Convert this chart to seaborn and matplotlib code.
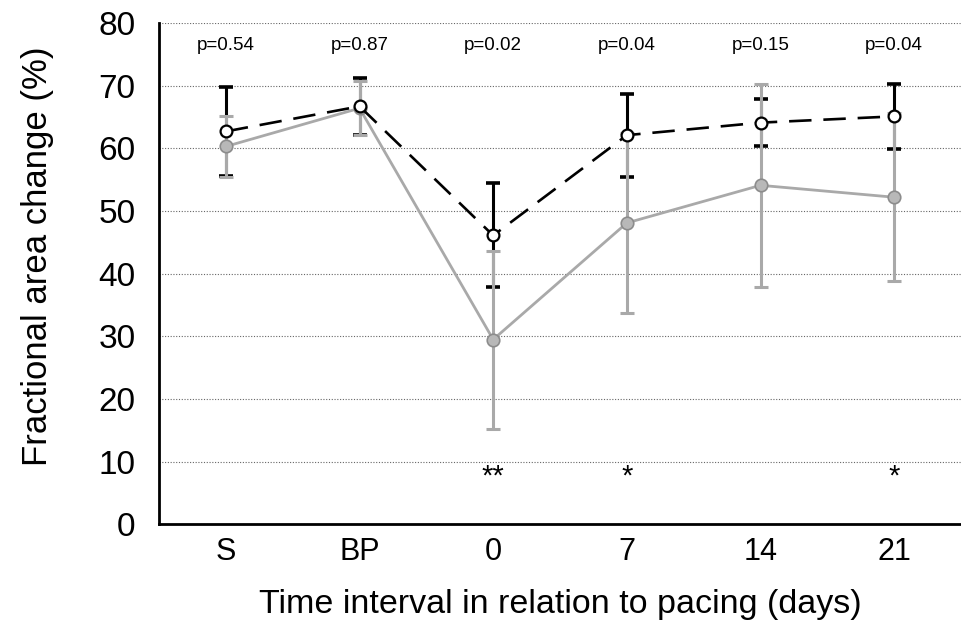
import numpy as np
import pandas as pd
import matplotlib
matplotlib.use("Agg")
import matplotlib.pyplot as plt
import seaborn as sns

# Fractional area change (%) at each time point, mean and SD per group
time_labels = ["S", "BP", "0", "7", "14", "21"]
dashed_mean = [62.7, 66.7, 46.1, 62.1, 64.1, 65.1]
dashed_sd = [7.1, 4.5, 8.3, 6.6, 3.7, 5.2]
grey_mean = [60.3, 66.4, 29.5, 48.1, 54.1, 52.2]
grey_sd = [4.9, 4.3, 14.2, 14.4, 16.2, 13.4]
p_values = ["p=0.54", "p=0.87", "p=0.02", "p=0.04", "p=0.15", "p=0.04"]
significance = ["", "", "**", "*", "", "*"]
y_ticks = [0, 10, 20, 30, 40, 50, 60, 70, 80]

sns.set_style("white")
plt.rcParams["font.family"] = ["Liberation Sans", "DejaVu Sans"]
plt.rcParams["text.color"] = "black"
plt.rcParams["axes.labelcolor"] = "black"
plt.rcParams["xtick.color"] = "black"
plt.rcParams["ytick.color"] = "black"

pos = np.arange(len(time_labels))
df = pd.DataFrame({
    "pos": np.concatenate([pos, pos]),
    "fac": dashed_mean + grey_mean,
    "group": ["dashed"] * len(pos) + ["grey"] * len(pos),
})

fig, ax = plt.subplots(figsize=(9.61, 6.38), dpi=100)
fig.subplots_adjust(left=0.1655, right=1.0, bottom=0.178, top=0.964)

GREY = "#a9a9a9"

# error bars: black group underneath, grey group over it
ax.errorbar(pos, dashed_mean, yerr=dashed_sd, fmt="none", ecolor="black",
            elinewidth=2.2, capsize=5, capthick=2.6, zorder=2)
ax.errorbar(pos, grey_mean, yerr=grey_sd, fmt="none", ecolor=GREY,
            elinewidth=2.2, capsize=5, capthick=2.2, zorder=3)

sns.lineplot(data=df[df.group == "grey"], x="pos", y="fac", ax=ax,
             color=GREY, linewidth=2.0, marker="o", markersize=9,
             markerfacecolor="#b8b8b8", markeredgecolor="#8c8c8c",
             markeredgewidth=1.2, zorder=4, legend=False)
sns.lineplot(data=df[df.group == "dashed"], x="pos", y="fac", ax=ax,
             color="black", linewidth=1.9, linestyle=(0, (8.5, 4.5)),
             marker="o", markersize=8.5, markerfacecolor="white",
             markeredgecolor="black", markeredgewidth=1.6, zorder=5,
             legend=False)

# p-values above each time point and significance stars below
for x, p, s in zip(pos, p_values, significance):
    ax.text(x, 76.4, p, ha="center", va="center", fontsize=13.5)
    if s:
        ax.text(x, 7.6, s, ha="center", va="center", fontsize=21)

ax.set_xlim(-0.5, 5.5)
ax.set_ylim(0, 80)
ax.set_yticks(y_ticks)
ax.set_xticks(pos, time_labels)
ax.set_xticks(np.arange(-0.5, 5.0, 1.0), minor=True)
ax.tick_params(axis="x", which="major", length=0, pad=9, labelsize=22)
ax.tick_params(axis="x", which="minor", length=9, width=1.8,
               direction="out", color="black")
ax.tick_params(axis="y", length=9, width=1.8, direction="out",
               color="black", labelsize=24, pad=8)

ax.yaxis.grid(True, linestyle=(0, (1, 1.5)), color="#666666", linewidth=0.8)
ax.xaxis.grid(False)
ax.set_axisbelow(True)

for side in ["top", "right"]:
    ax.spines[side].set_visible(False)
for side in ["left", "bottom"]:
    ax.spines[side].set_color("black")
    ax.spines[side].set_linewidth(2)

ax.set_xlabel("Time interval in relation to pacing (days)", fontsize=24.5, labelpad=16)
ax.set_ylabel("Fractional area change (%)", fontsize=25, labelpad=32)
ax.yaxis.label.set_y(0.535)

fig.savefig("out.png", dpi=100)
